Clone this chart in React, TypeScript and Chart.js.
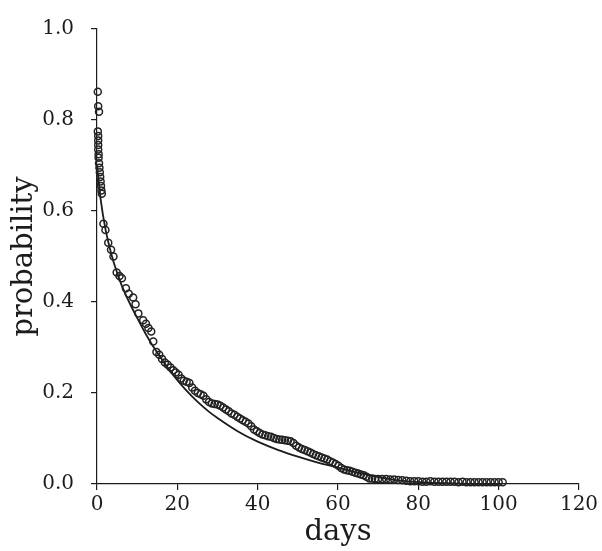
import React, { useEffect, useRef } from "react";
import { Chart, registerables } from "chart.js";

Chart.register(...registerables);

const xTicksLabels = [0, 20, 40, 60, 80, 100, 120];
const yTickLabels = ["0.0", "0.2", "0.4", "0.6", "0.8", "1.0"];

const obsDays = [
  0.2, 0.3, 0.5, 0.2, 0.3, 0.3, 0.3, 0.3, 0.4, 0.4, 0.5, 0.6, 0.7, 0.8, 0.9, 1.0, 1.1, 1.2,
  1.6, 2.1, 2.8, 3.5, 4.1, 4.9, 5.6, 6.2, 7.2, 7.9, 9.0, 9.6, 10.3, 11.5, 12.2, 12.8, 13.5,
  14.0, 14.8, 15.5, 16.2, 16.9, 17.6, 18.3, 19.0, 19.6, 20.3, 21.0, 21.6, 22.3, 23.0, 23.7,
  24.4, 25.1, 25.8, 26.5, 27.2, 27.9, 28.6, 29.3, 30.0, 30.7, 31.4, 32.1, 32.8, 33.5, 34.2,
  34.9, 35.6, 36.3, 37.0, 37.7, 38.4, 39.1, 39.8, 40.5, 41.2, 41.9, 42.6, 43.3, 44.0, 44.7,
  45.4, 46.1, 46.8, 47.5, 48.2, 48.9, 49.6, 50.3, 51.0, 51.7, 52.4, 53.1, 53.8, 54.5, 55.2,
  55.9, 56.6, 57.3, 58.0, 58.7, 59.4, 60.1, 60.8, 61.5, 62.2, 62.9, 63.6, 64.3, 65.0, 65.7,
  66.4, 67.1, 67.8, 68.5, 69.2, 70, 71, 72, 73, 74, 75, 76, 77, 78, 79, 80, 81, 82, 83, 84,
  85, 86, 87, 88, 89, 90, 91, 92, 93, 94, 95, 96, 97, 98, 99, 100, 101,
];
const obsProb = [
  0.862, 0.83, 0.818, 0.775, 0.765, 0.755, 0.745, 0.735, 0.725, 0.717, 0.705, 0.695, 0.685,
  0.675, 0.665, 0.655, 0.645, 0.638,
  0.572, 0.558, 0.53, 0.515, 0.5, 0.465, 0.457, 0.452, 0.43, 0.418, 0.41, 0.395, 0.375, 0.36,
  0.352, 0.343, 0.335, 0.313, 0.29, 0.284, 0.275, 0.267, 0.262, 0.256, 0.25, 0.245, 0.24,
  0.232, 0.227, 0.225, 0.222, 0.212, 0.205, 0.2, 0.197, 0.194, 0.186, 0.18, 0.177, 0.176,
  0.175, 0.172, 0.168, 0.164, 0.16, 0.155, 0.152, 0.148, 0.144, 0.14, 0.137, 0.133, 0.127,
  0.12, 0.116, 0.112, 0.109, 0.107, 0.105, 0.104, 0.101, 0.099, 0.098, 0.097, 0.096, 0.095,
  0.094, 0.09, 0.084, 0.08, 0.077, 0.075, 0.072, 0.069, 0.066, 0.063, 0.061, 0.058, 0.056,
  0.054, 0.05, 0.047, 0.044, 0.04, 0.035, 0.032, 0.03, 0.029, 0.027, 0.025, 0.023, 0.021,
  0.019, 0.016, 0.012, 0.012, 0.011, 0.011, 0.011, 0.011, 0.01, 0.01, 0.009, 0.008, 0.007,
  0.006, 0.006, 0.006, 0.005, 0.005, 0.006, 0.005, 0.005, 0.005, 0.005, 0.005, 0.005, 0.004,
  0.005, 0.004, 0.004, 0.004, 0.004, 0.004, 0.004, 0.004, 0.004, 0.004, 0.004, 0.004, 0.004,
];

const fitDays = [0, 1, 2, 3, 4, 5, 6, 8, 10, 12, 14, 16, 18, 20, 22, 25, 28, 30, 35, 40, 45, 50, 55, 60, 65, 70, 75, 80, 90, 100];
const fitProb = [0.7, 0.62, 0.565, 0.525, 0.492, 0.465, 0.44, 0.4, 0.365, 0.332, 0.302, 0.276, 0.251, 0.228, 0.208, 0.181, 0.158, 0.145, 0.116, 0.093, 0.075, 0.06, 0.047, 0.036, 0.025, 0.015, 0.008, 0.004, 0.001, 0.0];

const INK = "#1c1c1c";
const SERIF = "'DejaVu Serif', serif";

export default function App() {
  const ref = useRef<HTMLCanvasElement | null>(null);

  useEffect(() => {
    if (!ref.current) return;
    const chart = new Chart(ref.current, {
      type: "scatter",
      data: {
        datasets: [
          {
            label: "observed",
            data: obsDays.map((d, i) => ({ x: d, y: obsProb[i] })),
            showLine: false,
            pointStyle: "circle",
            pointRadius: 3.5,
            pointBorderWidth: 1.5,
            pointBorderColor: "#222",
            pointBackgroundColor: "rgba(0,0,0,0)",
            clip: false,
          },
          {
            label: "fit",
            data: fitDays.map((d, i) => ({ x: d, y: fitProb[i] })),
            showLine: true,
            borderColor: INK,
            borderWidth: 1.8,
            pointRadius: 0,
            cubicInterpolationMode: "monotone",
            clip: false,
          },
        ],
      },
      options: {
        responsive: false,
        animation: false,
        layout: { padding: { top: 18, right: 23, left: 0, bottom: 0 } },
        plugins: { legend: { display: false }, tooltip: { enabled: false } },
        scales: {
          x: {
            type: "linear",
            min: 0,
            max: 120,
            afterBuildTicks: (s: any) => {
              s.ticks = xTicksLabels.map((v) => ({ value: v }));
            },
            ticks: {
              font: { family: SERIF, size: 20 },
              color: INK,
              padding: 3,
              callback: (v: any) => String(v),
            },
            grid: { drawOnChartArea: false, drawTicks: true, tickLength: 6, color: INK, lineWidth: 1.2 },
            border: { display: true, color: INK, width: 1.2 },
            title: {
              display: true,
              text: "days",
              color: INK,
              font: { family: SERIF, size: 29 },
              padding: { top: 0, bottom: 1 },
            },
            afterFit: (s: any) => {
              s.height = 67;
            },
          },
          y: {
            type: "linear",
            min: 0,
            max: 1,
            afterBuildTicks: (s: any) => {
              s.ticks = yTickLabels.map((t) => ({ value: parseFloat(t) }));
            },
            ticks: {
              font: { family: SERIF, size: 20 },
              color: INK,
              padding: 17,
              callback: (v: any) => {
                const idx = yTickLabels.findIndex((t) => Math.abs(parseFloat(t) - v) < 1e-6);
                return idx >= 0 ? yTickLabels[idx] : "";
              },
            },
            grid: { drawOnChartArea: false, drawTicks: true, tickLength: 6, color: INK, lineWidth: 1.2 },
            border: { display: true, color: INK, width: 1.2 },
            title: {
              display: true,
              text: "probability",
              color: INK,
              font: { family: SERIF, size: 29 },
              padding: { top: 7, bottom: 0 },
            },
            afterFit: (s: any) => {
              s.width = 97;
            },
          },
        },
      },
    });
    return () => chart.destroy();
  }, []);

  return (
    <div style={{ position: "fixed", left: 0, top: 0, width: 602, height: 551, background: "#fff" }}>
      <canvas ref={ref} width={602} height={551} style={{ display: "block" }} />
    </div>
  );
}
